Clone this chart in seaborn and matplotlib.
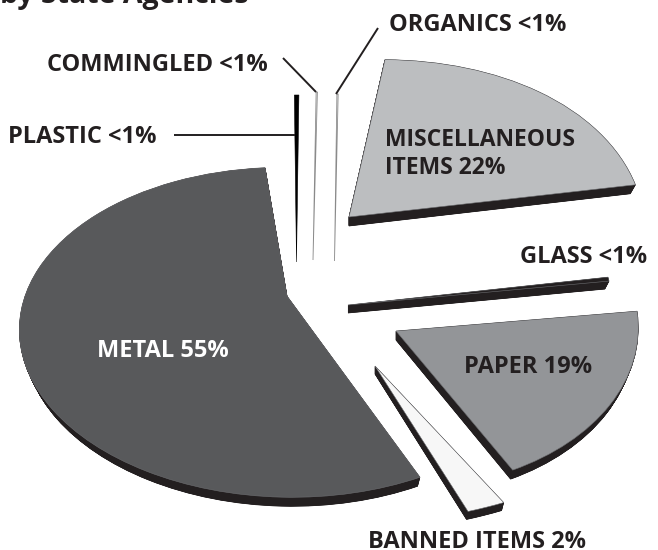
import numpy as np
import seaborn as sns
import matplotlib
matplotlib.use("Agg")
import matplotlib.pyplot as plt
import matplotlib.patches as mpatches
import matplotlib.transforms as mtrans

# share of each slice in percent, counter clockwise from the metal slice
categories = ["METAL", "BANNED ITEMS", "PAPER", "GLASS", "MISCELLANEOUS ITEMS", "ORGANICS", "COMMINGLED", "PLASTIC"]
shares = [55, 2, 19, 0.4, 22, 0.1, 0.1, 0.25]
slice_colors = ["#58595b", "#f7f7f7", "#939598", "#231f20", "#bcbec0", "#ffffff", "#ffffff", "#000000"]
side_color = "#231f20"
text_color = "#231f20"

# apex x, apex y, width, height, shear, lean, perspective, depth for every slice
layout = {
    "METAL": (287, 296, 262, 157, -4, 0, 0.22, 9),
    "BANNED ITEMS": (375, 366, 304, 158, 28, 0, 0, 8),
    "PAPER": (396, 331, 242, 165, 0, 5, -0.05, 9),
    "GLASS": (348, 305, 264, 160, 0, 0, 0, 8),
    "MISCELLANEOUS ITEMS": (349, 217, 295, 192, 40, 0, 0.22, 9),
    "ORGANICS": (334.5, 261, 200, 167, 1, 0, 0, 0),
    "COMMINGLED": (313, 260, 200, 168, 3, 0, 0, 0),
    "PLASTIC": (296.5, 262, 290, 167, 2.2, 0, 0, 0),
}

labels = [
    ("by State Agencies", 0, 3, 20.5, text_color),
    ("ORGANICS <1%", 389, 31, 17, text_color),
    ("COMMINGLED <1%", 47, 71, 17, text_color),
    ("PLASTIC <1%", 8, 143, 17, text_color),
    ("MISCELLANEOUS", 385, 146, 16.5, text_color),
    ("ITEMS 22%", 385, 174, 16.5, text_color),
    ("GLASS <1%", 520, 263, 17, text_color),
    ("PAPER 19%", 464, 373, 17, text_color),
    ("METAL 55%", 97, 357, 17, "white"),
    ("BANNED ITEMS 2%", 368, 548, 17, text_color),
]

leaders = [
    ([174, 295], [135, 135]),
    ([283, 316], [58, 92]),
    ([378, 336], [28, 94]),
]


class Tilt(mtrans.Transform):
    input_dims = 2
    output_dims = 2

    def __init__(self, k):
        super().__init__()
        self.k = k

    def transform_non_affine(self, xy):
        w = 1 + self.k * xy[:, 1]
        return np.column_stack([xy[:, 0] / w, xy[:, 1] / w])


sns.set_theme(style="white")
plt.rcParams["font.family"] = ["Open Sans", "DejaVu Sans"]

fig = plt.figure(figsize=(6.58, 5.5), dpi=100)
ax = fig.add_axes([0, 0, 1, 1])

colors = sns.color_palette(slice_colors)
wedges, _ = ax.pie(np.array(shares) / 100, startangle=95, normalize=False, colors=colors)

ax.set_aspect("auto")
ax.set_xlim(0, 658)
ax.set_ylim(550, 0)
ax.axis("off")

for name, w in zip(categories, wedges):
    px, py, rx, ry, shear, lean, k, depth = layout[name]
    base = Tilt(k) + mtrans.Affine2D.from_values(rx, lean, shear, -ry, px, py)
    w.set_transform(base + ax.transData)
    w.set_zorder(3)
    if name == "PLASTIC":
        w.set_edgecolor("#000000")
        w.set_linewidth(0.4)
    elif depth:
        w.set_edgecolor("#6d6e71")
        w.set_linewidth(0.4)
    else:
        w.set_edgecolor("#8a8a8a")
        w.set_linewidth(0.6)
    # side of the slice, stacked copies going down and narrowing a little
    for d in np.arange(0.25, depth + 0.01, 0.25):
        side = mpatches.Wedge((0, 0), 1, w.theta1, w.theta2, facecolor=side_color,
                              edgecolor=side_color, linewidth=0.5, zorder=2)
        shift = mtrans.Affine2D().translate(-px, 0).scale(1 - d * 0.002, 1).translate(px, d)
        side.set_transform(base + shift + ax.transData)
        ax.add_patch(side)

for xs, ys in leaders:
    ax.plot(xs, ys, color=text_color, lw=1.4, solid_capstyle="butt", zorder=4)

for txt, x, y, size, col in labels:
    ax.text(x, y, txt, fontsize=size, fontweight="bold", color=col, ha="left", va="baseline", zorder=5)

fig.savefig("out.png", dpi=100)
plt.close(fig)
